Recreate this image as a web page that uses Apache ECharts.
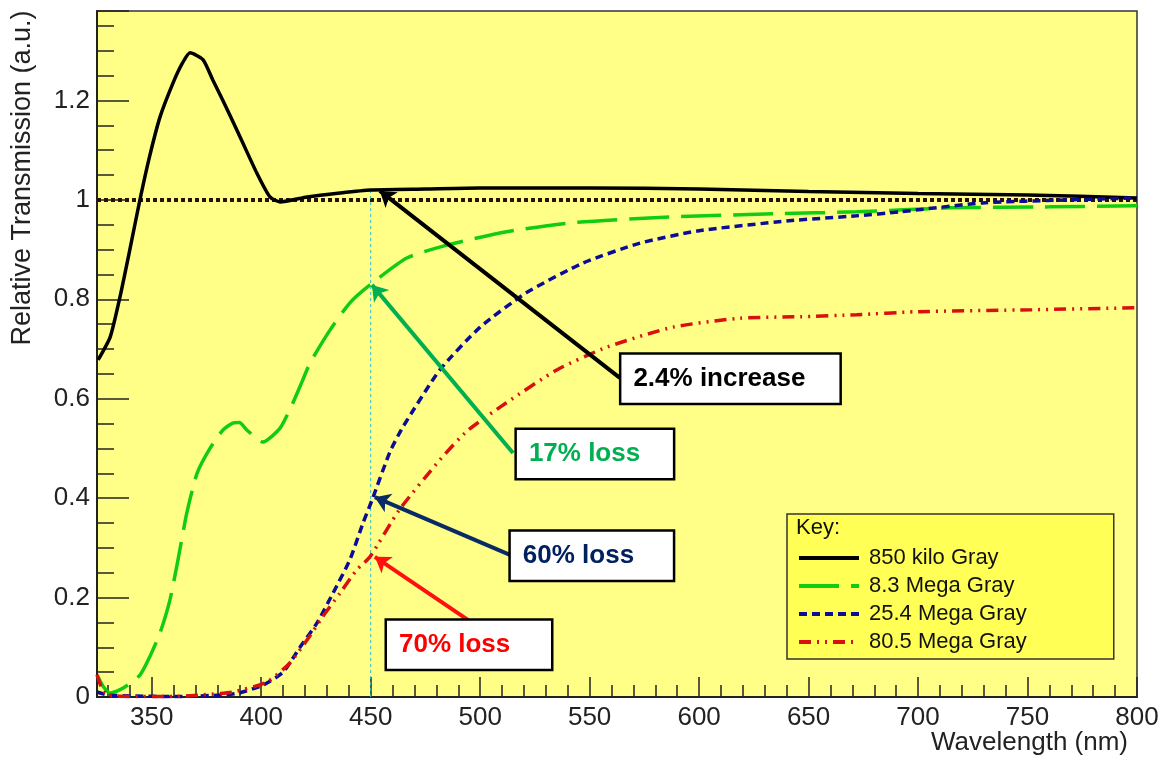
<!DOCTYPE html>
<html>
<head>
<meta charset="utf-8">
<script src="https://cdn.jsdelivr.net/npm/echarts@6/dist/echarts.min.js"></script>
<style>
  html, body { margin: 0; padding: 0; background: #fff; }
  #chart { width: 1165px; height: 760px; }
</style>
</head>
<body>
<div id="chart"></div>
<script>
// 850 kilo Gray
const kgy850Nm = [325.5, 331, 335.5, 340, 344.6, 349, 353.8, 359.7, 364, 367.5, 373.4, 378, 382.5, 390.3, 398, 404, 408.6, 421, 436, 450, 475, 500, 550, 600, 650, 700, 750, 800];
const kgy850T  = [0.678, 0.724, 0.805, 0.90, 1.0, 1.087, 1.167, 1.235, 1.275, 1.296, 1.282, 1.24, 1.20, 1.127, 1.054, 1.006, 0.996, 1.006, 1.014, 1.02, 1.022, 1.024, 1.024, 1.022, 1.017, 1.013, 1.010, 1.004];
// 8.3 Mega Gray
const mgy8Nm = [325.5, 328, 331, 337, 344.6, 349, 353.8, 358.3, 362, 366, 370.7, 376.6, 382.5, 387, 390, 393.5, 400.8, 408.6, 414.5, 419, 422.3, 431.4, 440.5, 449.7, 466.5, 484.8, 512, 542, 588, 633.7, 672, 714.5, 760, 800];
const mgy8T  = [0.04, 0.02, 0.008, 0.018, 0.044, 0.08, 0.129, 0.195, 0.276, 0.37, 0.45, 0.50, 0.537, 0.551, 0.552, 0.537, 0.513, 0.541, 0.592, 0.638, 0.672, 0.738, 0.793, 0.829, 0.883, 0.909, 0.936, 0.954, 0.966, 0.972, 0.976, 0.984, 0.986, 0.988];
// 25.4 Mega Gray
const mgy25Nm = [325, 330, 340, 360, 382.5, 390, 400.8, 410, 417.7, 425.5, 432.8, 440.5, 446.5, 450.6, 458.8, 464.7, 481.6, 500, 521, 547, 573, 600, 641, 672, 691.7, 729.6, 768, 800];
const mgy25T  = [0.01, 0.004, 0.002, 0.001, 0.004, 0.008, 0.024, 0.05, 0.10, 0.149, 0.209, 0.276, 0.35, 0.396, 0.493, 0.543, 0.658, 0.744, 0.813, 0.873, 0.913, 0.938, 0.958, 0.968, 0.976, 0.994, 1.0, 1.004];
// 80.5 Mega Gray
const mgy80Nm = [325, 327, 330, 340, 360, 372, 387, 402.6, 413, 421, 428, 436, 443.7, 449.7, 463, 481.6, 494, 512, 535, 558, 588, 618.6, 646, 672, 699, 752, 800];
const mgy80T  = [0.045, 0.02, 0.003, 0.001, 0.001, 0.004, 0.01, 0.03, 0.068, 0.115, 0.161, 0.209, 0.256, 0.282, 0.376, 0.477, 0.535, 0.592, 0.658, 0.704, 0.744, 0.762, 0.765, 0.769, 0.775, 0.779, 0.783];

const seriesNames = ['850 kilo Gray', '8.3 Mega Gray', '25.4 Mega Gray', '80.5 Mega Gray'];

// reference level and marker wavelength
const refLevel = [[325, 1], [800, 1]];
const markerLine = [[450, 0], [450, 1.02]];

// annotations: text, box centre, arrow tail -> tip
const noteTexts = ['2.4% increase', '17% loss', '60% loss', '70% loss'];
const noteCenters = [[614.3, 0.640], [552.4, 0.489], [551.0, 0.284], [494.9, 0.105]];
const noteArrows = [
  [[563.8, 0.642], [454.2, 1.018]],
  [[515.0, 0.491], [450.6, 0.829]],
  [[513.6, 0.286], [451.9, 0.402]],
  [[494.4, 0.155], [451.9, 0.282]]
];

const zip = (xs, ys) => xs.map((x, i) => [x, ys[i]]);

const FONT = '"Liberation Sans", Arial, sans-serif';
const noteColors = ['#000000', '#00b050', '#002060', '#ff0000'];
const arrowColors = ['#000000', '#00b050', '#0a2a66', '#ff1010'];
const noteSizes = [[218, 50], [156, 50], [162, 50], [164, 50]];

const chart = echarts.init(document.getElementById('chart'));

const curve = (name, data, color, dash) => ({
  name: name,
  type: 'line',
  data: data,
  symbol: 'none',
  showSymbol: false,
  smooth: 0.2,
  z: 3,
  lineStyle: { color: color, width: 3.5, type: dash },
  itemStyle: { color: color }
});

const option = {
  animation: false,
  backgroundColor: '#ffffff',
  grid: {
    left: 97, right: 28, top: 11, bottom: 63,
    show: true,
    backgroundColor: '#ffff88',
    borderColor: '#333',
    borderWidth: 1.5,
    outerBoundsMode: 'none'
  },
  xAxis: {
    type: 'value',
    min: 325,
    max: 800,
    splitNumber: 10,
    axisLine: { lineStyle: { color: '#222', width: 2 } },
    axisTick: { inside: true, length: 20, lineStyle: { color: '#222', width: 1.5 } },
    minorTick: { show: true, splitNumber: 5, length: 12, lineStyle: { color: '#222', width: 1.5 } },
    splitLine: { show: false },
    axisLabel: {
      margin: 8,
      color: '#222',
      fontSize: 26,
      fontFamily: FONT,
      formatter: v => (v % 50 === 0 ? String(v) : '')
    }
  },
  yAxis: {
    type: 'value',
    min: 0,
    max: 1.38,
    interval: 0.2,
    axisLine: { show: true, lineStyle: { color: '#222', width: 2 } },
    axisTick: { show: true, inside: true, length: 32, lineStyle: { color: '#222', width: 1.5 } },
    minorTick: { show: true, splitNumber: 4, length: 17, lineStyle: { color: '#222', width: 1.5 } },
    splitLine: { show: false },
    axisLabel: {
      margin: 7,
      color: '#222',
      fontSize: 26,
      fontFamily: FONT,
      showMaxLabel: false,
      formatter: v => (v > 1.3 ? '' : String(Math.round(v * 10) / 10))
    }
  },
  legend: {
    data: seriesNames,
    orient: 'vertical',
    left: 787,
    top: 514,
    padding: [32, 87, 5, 10],
    itemWidth: 60,
    itemHeight: 14,
    itemGap: 4,
    backgroundColor: '#ffff55',
    borderColor: '#333',
    borderWidth: 1.5,
    borderRadius: 0,
    selectedMode: false,
    itemStyle: { opacity: 0 },
    lineStyle: { width: 4 },
    textStyle: { fontSize: 22, lineHeight: 24, fontFamily: FONT, color: '#111', padding: [0, 0, 0, 5] }
  },
  graphic: [
    {
      type: 'text', x: 23, y: 178, rotation: Math.PI / 2, z: 10,
      style: { text: 'Relative Transmission (a.u.)', font: '27px ' + FONT, fill: '#222', align: 'center', verticalAlign: 'middle' }
    },
    {
      type: 'text', x: 1128, y: 743, z: 10,
      style: { text: 'Wavelength (nm)', font: '26px ' + FONT, fill: '#222', align: 'right', verticalAlign: 'middle' }
    },
    {
      type: 'text', x: 796, y: 528, z: 20,
      style: { text: 'Key:', font: '22px ' + FONT, fill: '#111', align: 'left', verticalAlign: 'middle' }
    }
  ],
  series: [
    {
      name: 'ref', type: 'line', data: refLevel, symbol: 'none', z: 2, silent: true,
      lineStyle: { color: '#2a1005', width: 4, type: [4, 3] }
    },
    {
      name: 'marker', type: 'line', data: markerLine, symbol: 'none', z: 2, silent: true,
      lineStyle: { color: '#33bbbb', width: 1, type: [3, 3] }
    },
    curve(seriesNames[0], zip(kgy850Nm, kgy850T), '#000000', 'solid'),
    curve(seriesNames[1], zip(mgy8Nm, mgy8T), '#11cc11', [40, 12]),
    curve(seriesNames[2], zip(mgy25Nm, mgy25T), '#0c0c96', [8, 5]),
    curve(seriesNames[3], zip(mgy80Nm, mgy80T), '#d81010', [12, 6, 2, 6, 2, 6]),
    {
      name: 'arrows',
      type: 'lines',
      coordinateSystem: 'cartesian2d',
      z: 5,
      symbol: ['none', 'arrow'],
      symbolSize: 15,
      silent: true,
      data: noteArrows.map((c, i) => ({
        coords: c,
        lineStyle: { color: arrowColors[i], width: 4, opacity: 1 }
      }))
    },
    {
      name: 'notes',
      type: 'scatter',
      z: 6,
      silent: true,
      symbolSize: 0,
      itemStyle: { opacity: 1 },
      data: noteCenters.map((c, i) => ({
        value: c,
        label: {
          color: noteColors[i],
          width: noteSizes[i][0] - 24,
          height: noteSizes[i][1] - 2,
          lineHeight: noteSizes[i][1] - 2,
          offset: [-noteSizes[i][0] / 2, 0]
        }
      })),
      label: {
        show: true,
        opacity: 1,
        position: 'inside',
        align: 'left',
        verticalAlign: 'middle',
        padding: [0, 12],
        backgroundColor: '#ffffff',
        borderColor: '#000',
        borderWidth: 2.5,
        fontSize: 26,
        fontWeight: 'bold',
        fontFamily: FONT,
        formatter: p => noteTexts[p.dataIndex]
      }
    }
  ]
};

chart.setOption(option);
</script>
</body>
</html>
